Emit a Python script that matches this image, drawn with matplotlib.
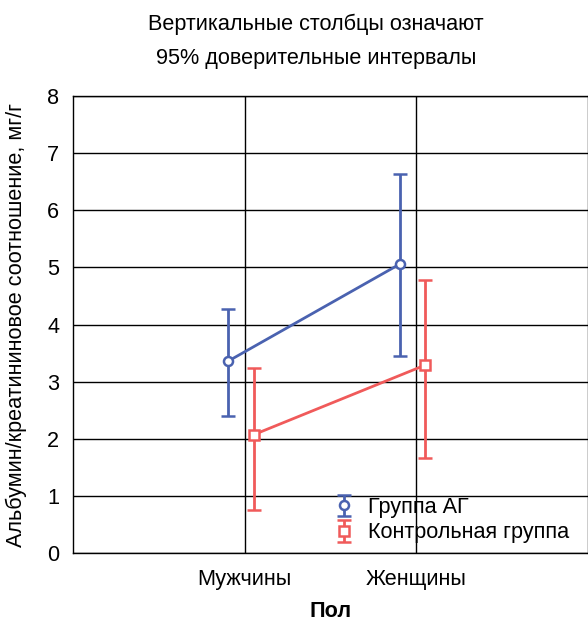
import numpy as np
import matplotlib
matplotlib.use("Agg")
import matplotlib.pyplot as plt

plt.rcParams['font.family'] = ['Liberation Sans', 'DejaVu Sans']

categories = ['Мужчины', 'Женщины']
ag_mean = [3.36, 5.06]
ag_low = [2.40, 3.45]
ag_high = [4.27, 6.64]
ctrl_mean = [2.07, 3.29]
ctrl_low = [0.75, 1.66]
ctrl_high = [3.24, 4.78]

blue = '#4a62b0'
red = '#f05a5a'
fs = 15.6

x = np.arange(len(categories))
fig = plt.figure(figsize=(5.88, 6.26), dpi=100)
ax = fig.add_axes([0.124, 0.1166, 0.876, 0.73])

def draw(xpos, mean, low, high, color, marker, label):
    mean = np.array(mean)
    yerr = [mean - np.array(low), np.array(high) - mean]
    ax.plot(xpos, mean, color=color, lw=2, zorder=3)
    ax.errorbar(xpos, mean, yerr=yerr, fmt=marker, ls='none', color=color,
                mfc='white', mec=color, mew=1.8, ms=6.5, elinewidth=2,
                capsize=5, capthick=2, label=label, zorder=4)

draw(x - 0.095, ag_mean, ag_low, ag_high, blue, 'o', 'Группа АГ')
draw(x + 0.052, ctrl_mean, ctrl_low, ctrl_high, red, 's', 'Контрольная группа')

ax.set_xlim(-1, 2)
ax.set_ylim(0, 8)
ax.set_xticks(x)
ax.set_xticklabels(categories, fontsize=fs)
ax.set_yticks(range(0, 9))
ax.tick_params(length=0, labelsize=fs)
ax.tick_params(axis='x', pad=11.5)
ax.tick_params(axis='y', pad=10)
ax.grid(True, color='black', lw=1)
ax.set_axisbelow(True)
for s in ax.spines.values():
    s.set_linewidth(1)

ax.set_ylabel('Альбумин/креатининовое соотношение, мг/г', fontsize=fs, labelpad=14)
ax.set_xlabel('Пол', fontsize=fs, fontweight='bold', labelpad=8)
fig.text(0.537, 0.934, 'Вертикальные столбцы означают\n95% доверительные интервалы',
         ha='center', va='center', fontsize=fs, linespacing=1.85)

ax.legend(loc='lower left', bbox_to_anchor=(0.505, 0.021), frameon=False,
          fontsize=fs, handlelength=1.0, handletextpad=0.6, labelspacing=0.2,
          borderaxespad=0, borderpad=0)

fig.savefig('out.png', dpi=100)
